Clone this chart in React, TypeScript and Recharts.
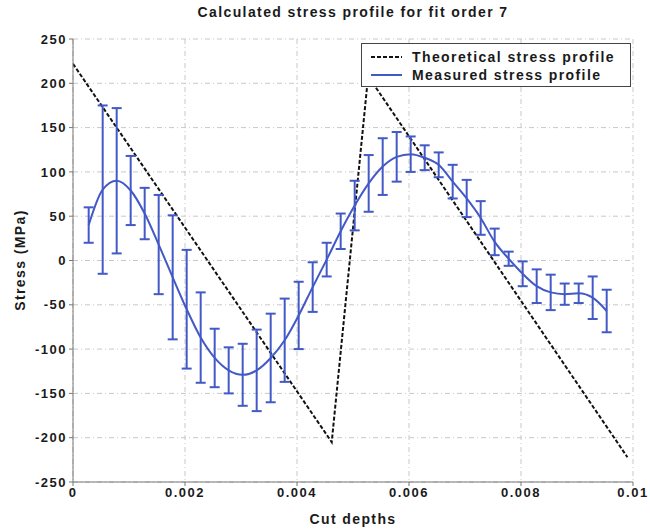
import React from 'react';
import {
  ComposedChart,
  Line,
  ErrorBar,
  XAxis,
  YAxis,
  CartesianGrid,
  Legend,
} from 'recharts';

// cut depth of each measurement
const cutDepths = [
  0.00028, 0.00053, 0.00078, 0.00103, 0.00128, 0.00153, 0.00178, 0.00203,
  0.00228, 0.00253, 0.00278, 0.00303, 0.00328, 0.00353, 0.00378, 0.00403,
  0.00428, 0.00453, 0.00478, 0.00503, 0.00528, 0.00553, 0.00578, 0.00603,
  0.00628, 0.00653, 0.00678, 0.00703, 0.00728, 0.00753, 0.00778, 0.00803,
  0.00828, 0.00853, 0.00878, 0.00903, 0.00928, 0.00953,
];

// fitted stress (MPa) at each cut depth
const measuredStress = [
  40, 80, 90, 79, 53, 18, -19, -55, -87, -110, -124, -129, -124, -110, -90,
  -62, -30, 1, 33, 62, 87, 106, 117, 120, 116, 108, 89, 70, 48, 21, 2, -15,
  -29, -36, -38, -37, -42, -57,
];

// +/- uncertainty (MPa)
const stressError = [
  20, 95, 82, 39, 29, 56, 70, 67, 51, 33, 26, 35, 46, 50, 47, 38, 28, 19, 20,
  28, 32, 32, 28, 20, 14, 14, 19, 21, 19, 15, 8, 14, 19, 20, 12, 11, 24, 24,
];

// theoretical profile corner points
const theoryDepths = [0, 0.00462, 0.00527, 0.0099];
const theoryStress = [222, -205, 208, -222];

const xTicks = [0, 0.002, 0.004, 0.006, 0.008, 0.01];
const yTicks = [250, 200, 150, 100, 50, 0, -50, -100, -150, -200, -250];

const measured = cutDepths.map((x, i) => ({
  x,
  y: measuredStress[i],
  err: stressError[i],
}));
const theory = theoryDepths.map((x, i) => ({ x, y: theoryStress[i] }));

const BLUE = '#4259c6';
const FONT = '"Liberation Sans", Arial, sans-serif';
const tickStyle = {
  fontFamily: FONT,
  fontSize: 13,
  fontWeight: 700,
  fill: '#1a1a1a',
  letterSpacing: 1.5,
};

const LegendBox = () => (
  <div
    style={{
      width: 270,
      height: 44,
      border: '1px solid #444',
      background: '#fff',
      fontFamily: FONT,
      fontSize: 14,
      fontWeight: 700,
      letterSpacing: 1.4,
      color: '#1a1a1a',
      boxSizing: 'border-box',
      paddingTop: 4,
    }}
  >
    <div style={{ display: 'flex', alignItems: 'center', height: 18 }}>
      <svg width={50} height={10}>
        <line
          x1={9}
          x2={40}
          y1={5}
          y2={5}
          stroke="#111"
          strokeWidth={2}
          strokeDasharray="4 2"
        />
      </svg>
      <span>Theoretical stress profile</span>
    </div>
    <div style={{ display: 'flex', alignItems: 'center', height: 18 }}>
      <svg width={50} height={10}>
        <line x1={9} x2={40} y1={5} y2={5} stroke={BLUE} strokeWidth={2} />
      </svg>
      <span>Measured stress profile</span>
    </div>
  </div>
);

export default function App() {
  return (
    <div
      style={{
        position: 'absolute',
        left: 0,
        top: 0,
        width: 650,
        height: 530,
        background: '#fff',
      }}
    >
      <div
        style={{
          position: 'absolute',
          top: 4,
          left: 73,
          width: 560,
          textAlign: 'center',
          fontFamily: FONT,
          fontSize: 14,
          fontWeight: 700,
          letterSpacing: 1.4,
          color: '#1a1a1a',
        }}
      >
        Calculated stress profile for fit order 7
      </div>
      <div
        style={{
          position: 'absolute',
          left: 20,
          top: 260,
          transform: 'translate(-50%, -50%) rotate(-90deg)',
          whiteSpace: 'nowrap',
          fontFamily: FONT,
          fontSize: 14,
          fontWeight: 700,
          letterSpacing: 1.4,
          color: '#1a1a1a',
        }}
      >
        Stress (MPa)
      </div>
      <ComposedChart
        width={650}
        height={530}
        margin={{ top: 39, right: 17, bottom: 6, left: 13 }}
      >
        <CartesianGrid
          stroke="#c8c8c8"
          strokeDasharray="5 3 1 3"
          horizontalValues={yTicks}
          verticalValues={xTicks}
        />
        <XAxis
          type="number"
          dataKey="x"
          domain={[0, 0.01]}
          ticks={xTicks}
          tickFormatter={(v: number) => String(v)}
          height={42}
          tick={tickStyle}
          tickSize={4}
          stroke="#777"
          allowDataOverflow
          label={{
            value: 'Cut depths',
            position: 'insideBottom',
            offset: 0,
            style: {
              fontFamily: FONT,
              fontSize: 14,
              fontWeight: 700,
              letterSpacing: 1.4,
              fill: '#1a1a1a',
            },
          }}
        />
        <YAxis
          type="number"
          domain={[-250, 250]}
          ticks={yTicks}
          width={60}
          tick={tickStyle}
          tickSize={4}
          stroke="#777"
          allowDataOverflow
        />
        <Line
          data={theory}
          dataKey="y"
          stroke="#111"
          strokeWidth={2}
          strokeDasharray="4 2"
          dot={false}
          type="linear"
          isAnimationActive={false}
        />
        <Line
          data={measured}
          dataKey="y"
          stroke={BLUE}
          strokeWidth={2}
          dot={false}
          type="monotone"
          isAnimationActive={false}
        >
          <ErrorBar
            dataKey="err"
            direction="y"
            width={5}
            stroke={BLUE}
            strokeWidth={2}
            isAnimationActive={false}
          />
        </Line>
        {/* vertical/center/middle keeps the legend from reserving plot space */}
        <Legend
          layout="vertical"
          align="center"
          verticalAlign="middle"
          content={() => <LegendBox />}
          wrapperStyle={{ left: 361, top: 43, width: 270, height: 44 }}
        />
      </ComposedChart>
    </div>
  );
}
